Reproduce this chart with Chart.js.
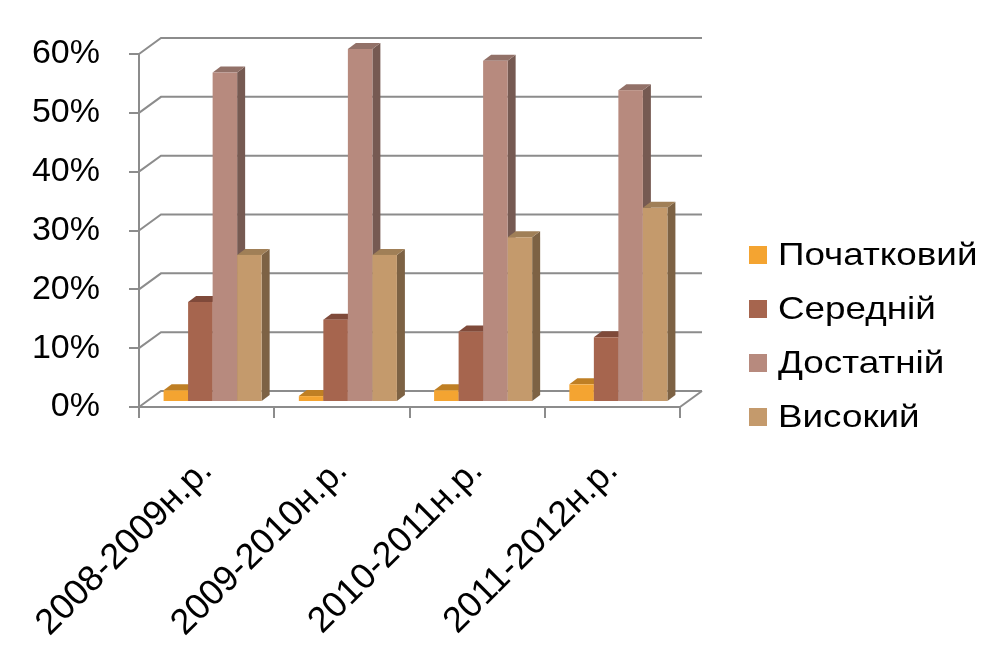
<!DOCTYPE html>
<html>
<head>
<meta charset="utf-8">
<script src="https://cdn.jsdelivr.net/npm/chart.js@4.4.0/dist/chart.umd.min.js"></script>
<style>
  html, body { margin: 0; padding: 0; background: #fff; }
</style>
</head>
<body>
<canvas id="chart" width="1002" height="669"></canvas>
<script>
const categories = ['2008-2009н.р.', '2009-2010н.р.', '2010-2011н.р.', '2011-2012н.р.'];
const seriesNames = ['Початковий', 'Середній', 'Достатній', 'Високий'];
const pochatkovyi = [2, 1, 2, 3];
const serednii = [17, 14, 12, 11];
const dostatnii = [56, 60, 58, 53];
const vysokyi = [25, 25, 28, 33];
const yTicks = [0, 10, 20, 30, 40, 50, 60];

const frontColors = ['#f4a431', '#a6654e', '#b78a7e', '#c49a6c'];
const topColors = ['#bf7f24', '#7f4a3a', '#927168', '#a07f57'];
const sideColors = ['#9c6a1f', '#7a4838', '#765a52', '#7d6244'];
const gridColor = '#8c8c8c';
const FONT = '"Liberation Sans", Arial, sans-serif';

// 3d look: back wall offset, bar shift into depth, bar depth
const WALL = { dx: 22, dy: -16 };
const BAR_SHIFT = { dx: 6, dy: -5 };
const BAR_DEPTH = { dx: 8, dy: -6 };
const LEGEND = { x: 749, top: 255, step: 54, box: 18, gap: 11, stretch: 1.15 };

Chart.defaults.font.family = FONT;

const box3d = {
    id: 'box3d',
    beforeDatasetsDraw(chart) {
        const ctx = chart.ctx;
        const ys = chart.scales.y;
        const { left, right } = chart.chartArea;

        ctx.save();
        // walls and floor
        ctx.strokeStyle = gridColor;
        ctx.lineWidth = 2;
        yTicks.forEach((v) => {
            const py = ys.getPixelForValue(v);
            ctx.beginPath();
            ctx.moveTo(left, py);
            ctx.lineTo(left + WALL.dx, py + WALL.dy);
            ctx.lineTo(right + WALL.dx, py + WALL.dy);
            ctx.stroke();
        });
        const base = ys.getPixelForValue(0);
        ctx.beginPath();
        ctx.moveTo(right, base);
        ctx.lineTo(right + WALL.dx, base + WALL.dy);
        ctx.stroke();

        // bars, group by group, left to right
        for (let j = 0; j < categories.length; j++) {
            chart.data.datasets.forEach((ds, i) => {
                const bar = chart.getDatasetMeta(i).data[j];
                const x0 = bar.x - bar.width / 2 + BAR_SHIFT.dx;
                const x1 = bar.x + bar.width / 2 + BAR_SHIFT.dx;
                const yt = bar.y + BAR_SHIFT.dy;
                const yb = bar.base + BAR_SHIFT.dy;
                const dx = BAR_DEPTH.dx, dy = BAR_DEPTH.dy;

                ctx.fillStyle = sideColors[i];
                ctx.beginPath();
                ctx.moveTo(x1, yb);
                ctx.lineTo(x1 + dx, yb + dy);
                ctx.lineTo(x1 + dx, yt + dy);
                ctx.lineTo(x1, yt);
                ctx.closePath();
                ctx.fill();

                ctx.fillStyle = topColors[i];
                ctx.beginPath();
                ctx.moveTo(x0, yt);
                ctx.lineTo(x0 + dx, yt + dy);
                ctx.lineTo(x1 + dx, yt + dy);
                ctx.lineTo(x1, yt);
                ctx.closePath();
                ctx.fill();

                ctx.fillStyle = ds.backgroundColor;
                ctx.fillRect(x0, yt, x1 - x0, yb - yt);
            });
        }
        ctx.restore();
        return false;
    },
    afterDraw(chart) {
        const ctx = chart.ctx;
        ctx.save();
        ctx.font = '32px ' + FONT;
        ctx.textBaseline = 'middle';
        ctx.textAlign = 'left';
        seriesNames.forEach((name, i) => {
            const cy = LEGEND.top + i * LEGEND.step;
            ctx.fillStyle = frontColors[i];
            ctx.fillRect(LEGEND.x, cy - LEGEND.box / 2, LEGEND.box, LEGEND.box);
            ctx.save();
            ctx.translate(LEGEND.x + LEGEND.box + LEGEND.gap, cy + 1);
            ctx.scale(LEGEND.stretch, 1);
            ctx.fillStyle = '#000';
            ctx.fillText(name, 0, 0);
            ctx.restore();
        });
        ctx.restore();
    }
};

const values = [pochatkovyi, serednii, dostatnii, vysokyi];

new Chart(document.getElementById('chart'), {
    type: 'bar',
    data: {
        labels: categories,
        datasets: values.map((d, i) => ({
            label: seriesNames[i],
            data: d,
            backgroundColor: frontColors[i],
            categoryPercentage: 0.725,
            barPercentage: 1.0
        }))
    },
    options: {
        responsive: false,
        animation: false,
        devicePixelRatio: 1,
        layout: { padding: { top: 54, right: 322, bottom: 0, left: 0 } },
        plugins: {
            legend: { display: false },
            tooltip: { enabled: false }
        },
        scales: {
            x: {
                afterFit: (scale) => {
                    scale.height = 262;
                    scale.paddingLeft = 0;
                    scale.paddingRight = 0;
                },
                grid: { offset: true, drawOnChartArea: false, drawTicks: true, tickLength: 11, color: gridColor, lineWidth: 2 },
                border: { display: true, color: gridColor, width: 2 },
                ticks: { maxRotation: 45, minRotation: 45, padding: 32, color: '#000', font: { size: 36 } }
            },
            y: {
                min: 0,
                max: 60,
                afterFit: (scale) => { scale.width = 139; },
                grid: { drawOnChartArea: false, drawTicks: true, tickLength: 10, color: gridColor, lineWidth: 2 },
                border: { display: true, color: gridColor, width: 2 },
                ticks: { stepSize: 10, padding: 29, color: '#000', font: { size: 34 }, callback: (v) => v + '%' }
            }
        }
    },
    plugins: [box3d]
});
</script>
</body>
</html>
